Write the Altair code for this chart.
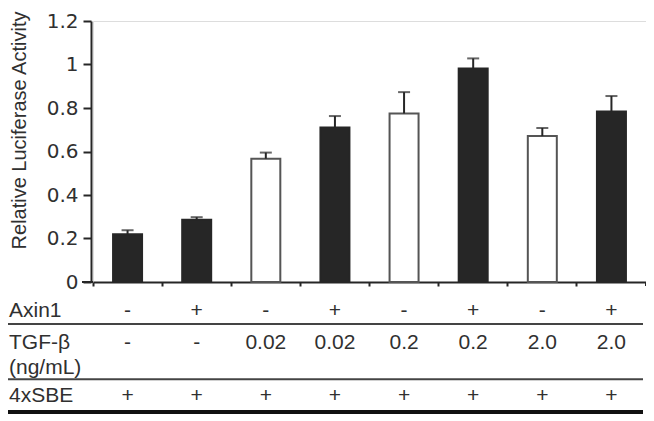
import altair as alt
import pandas as pd

# ---- data ----
axin1 = ["-", "+", "-", "+", "-", "+", "-", "+"]
tgf_beta = ["-", "-", "0.02", "0.02", "0.2", "0.2", "2.0", "2.0"]
sbe_4x = ["+", "+", "+", "+", "+", "+", "+", "+"]
activity = [0.22, 0.286, 0.567, 0.71, 0.775, 0.982, 0.671, 0.784]
error = [0.018, 0.012, 0.028, 0.053, 0.098, 0.046, 0.037, 0.071]
y_ticks = [0, 0.2, 0.4, 0.6, 0.8, 1.0, 1.2]
row_labels = ["Axin1", "TGF-β", "(ng/mL)", "4xSBE"]
y_title = "Relative Luciferase Activity"

cond = [f"{a}|{t}" for a, t in zip(axin1, tgf_beta)]
df = pd.DataFrame({
    "cond": cond,
    "axin1": axin1,
    "tgf": tgf_beta,
    "sbe": sbe_4x,
    "activity": activity,
    "err": error,
})
df["top"] = df["activity"] + df["err"]
df["style"] = ["open" if (a == "-" and t != "-") else "filled" for a, t in zip(axin1, tgf_beta)]

INK = "#262626"
TXT = "#303030"

x_enc = alt.X(
    "cond:N", sort=cond,
    scale=alt.Scale(paddingInner=0, paddingOuter=0),
    axis=alt.Axis(title=None, labels=False, bandPosition=0, tickSize=4, tickWidth=2,
                  domainWidth=2, domainColor=INK, tickColor=INK),
)
y_axis = alt.Axis(
    values=y_ticks, format=".1~f", grid=False, offset=2, tickSize=8, tickWidth=2,
    domainWidth=2, domainColor=INK, tickColor=INK,
    labelFont="DejaVu Sans", labelFontSize=20, labelPadding=5, labelColor=TXT,
    title=y_title, titleFont="Liberation Sans", titleFontSize=20, titleFontWeight="normal",
    titleColor=TXT, titleAngle=270, titleX=-72, titleY=109, titleBaseline="middle",
    titleAlign="center",
)
y_scale = alt.Scale(domain=[0, 1.2], nice=False)

base = alt.Chart(df)

bars = base.mark_bar(size=29, strokeWidth=2).encode(
    x=x_enc,
    y=alt.Y("activity:Q", scale=y_scale, axis=y_axis),
    fill=alt.Fill("style:N", scale=alt.Scale(domain=["filled", "open"], range=[INK, "#ffffff"]), legend=None),
    stroke=alt.Stroke("style:N", scale=alt.Scale(domain=["filled", "open"], range=[INK, "#555555"]), legend=None),
)
err_line = base.mark_rule(color=INK, strokeWidth=2).encode(
    x=x_enc,
    y=alt.Y("activity:Q", scale=y_scale, axis=y_axis),
    y2="top:Q",
)
err_cap = base.mark_tick(orient="horizontal", size=12, thickness=2, color=INK).encode(
    x=x_enc,
    y=alt.Y("top:Q", scale=y_scale, axis=y_axis),
)

txt_kw = dict(font="Liberation Sans", fontSize=21, color=TXT, baseline="middle")
row_axin = base.mark_text(**txt_kw).encode(x=x_enc, y=alt.value(289.7), text="axin1:N")
row_tgf = base.mark_text(**txt_kw).encode(x=x_enc, y=alt.value(321.7), text="tgf:N")
row_sbe = base.mark_text(**txt_kw).encode(x=x_enc, y=alt.value(375), text="sbe:N")

row_label_y = [289.7, 321.7, 347, 375]
label_layers = []
for lab, yy in zip(row_labels, row_label_y):
    label_layers.append(
        alt.Chart(pd.DataFrame({"label": [lab]})).mark_text(align="left", **txt_kw).encode(
            x=alt.value(-84), y=alt.value(yy), text="label:N")
    )

one = pd.DataFrame({"k": [0]})
rules = [
    alt.Chart(one).mark_rule(color="#444444", strokeWidth=2).encode(
        x=alt.value(-86), x2=alt.value(550), y=alt.value(303)),
    alt.Chart(one).mark_rule(color="#444444", strokeWidth=2).encode(
        x=alt.value(-86), x2=alt.value(550), y=alt.value(358.3)),
    alt.Chart(one).mark_rule(color="#111111", strokeWidth=4).encode(
        x=alt.value(-86), x2=alt.value(550), y=alt.value(391)),
    # x-axis line extension to the left and closing tick on the right
    alt.Chart(one).mark_rule(color=INK, strokeWidth=2).encode(
        x=alt.value(-11), x2=alt.value(0), y=alt.value(261)),
    alt.Chart(one).mark_rule(color=INK, strokeWidth=2).encode(
        x=alt.value(553), y=alt.value(261), y2=alt.value(265)),
]

chart = alt.layer(
    bars, err_line, err_cap, row_axin, row_tgf, row_sbe, *label_layers, *rules
).properties(
    width=553, height=261,
    padding={"left": 85, "top": 13, "right": 0, "bottom": 132},
    autosize="none",
).configure_view(stroke=None).configure(background="white")

chart.save("out.html", embed_options={"renderer": "svg", "actions": False})
